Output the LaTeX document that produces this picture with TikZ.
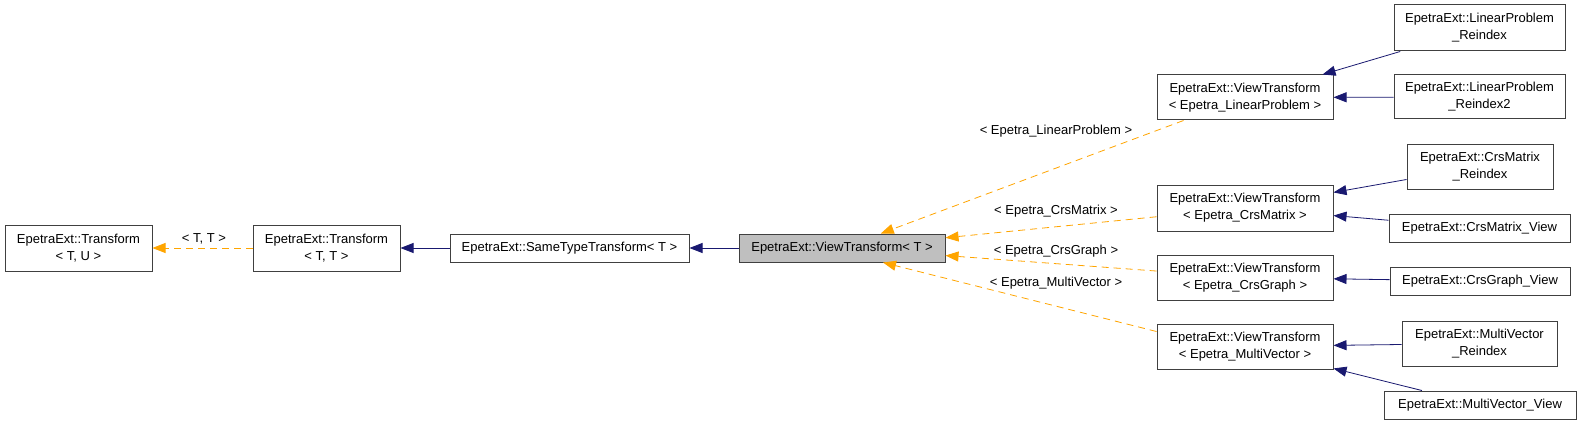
\documentclass[tikz,border=0pt]{standalone}
\usepackage{fontspec}
\setmainfont{Liberation Sans}
\usetikzlibrary{arrows.meta,calc}
\definecolor{edgeblue}{HTML}{191970}
\definecolor{edgeorange}{HTML}{FFA500}
\definecolor{boxgray}{HTML}{BFBFBF}
\definecolor{boxline}{HTML}{404040}
\begin{document}
\begin{tikzpicture}[x=1pt,y=-1pt,
  cls/.style={draw=boxline, line width=1pt, rectangle, inner sep=0pt, align=center, font=\fontsize{13}{17}\selectfont},
  inh/.style={draw=edgeblue, line width=0.8pt, -{Triangle[length=13pt,width=10pt]}},
  tpl/.style={draw=edgeorange, line width=0.8pt, dash pattern=on 7pt off 5pt, -{Triangle[length=13pt,width=10pt]}},
  lbl/.style={font=\fontsize{13}{17}\selectfont, inner sep=0pt}]
\fill[white] (0,0) rectangle (1581,425);
\useasboundingbox (0,0) rectangle (1581,425);

\node[cls, minimum width=147pt, minimum height=46pt] (tu) at (78.5,248) {EpetraExt::Transform\\< T, U >};
\node[cls, minimum width=147pt, minimum height=46pt] (tt) at (326.5,248) {EpetraExt::Transform\\< T, T >};
\node[cls, minimum width=239pt, minimum height=28pt] (st) at (569.5,248) {EpetraExt::SameTypeTransform< T >};
\node[cls, fill=boxgray, minimum width=206pt, minimum height=28pt] (vt) at (842,248) {EpetraExt::ViewTransform< T >};

\node[cls, minimum width=176pt, minimum height=45pt] (vtlp) at (1245,97.5) {EpetraExt::ViewTransform\\< Epetra\_LinearProblem >};
\node[cls, minimum width=176pt, minimum height=46pt] (vtcm) at (1245,208) {EpetraExt::ViewTransform\\< Epetra\_CrsMatrix >};
\node[cls, minimum width=176pt, minimum height=45pt] (vtcg) at (1245,277.5) {EpetraExt::ViewTransform\\< Epetra\_CrsGraph >};
\node[cls, minimum width=176pt, minimum height=45pt] (vtmv) at (1245,346.5) {EpetraExt::ViewTransform\\< Epetra\_MultiVector >};

\node[cls, minimum width=171pt, minimum height=46pt] (lpr) at (1479.5,28) {EpetraExt::LinearProblem\\\_Reindex};
\node[cls, minimum width=171pt, minimum height=44pt] (lpr2) at (1479.5,97) {EpetraExt::LinearProblem\\\_Reindex2};
\node[cls, minimum width=146pt, minimum height=45pt] (cmr) at (1480,166.5) {EpetraExt::CrsMatrix\\\_Reindex};
\node[cls, minimum width=181pt, minimum height=28pt] (cmv) at (1479.5,228) {EpetraExt::CrsMatrix\_View};
\node[cls, minimum width=180pt, minimum height=28pt] (cgv) at (1480,281) {EpetraExt::CrsGraph\_View};
\node[cls, minimum width=155pt, minimum height=45pt] (mvr) at (1479.5,343.5) {EpetraExt::MultiVector\\\_Reindex};
\node[cls, minimum width=192pt, minimum height=28pt] (mvv) at (1480,405) {EpetraExt::MultiVector\_View};

\draw[tpl] (tt) -- (tu);
\draw[inh] (st) -- (tt);
\draw[inh] (vt) -- (st);
\draw[tpl] (vtlp) -- (vt);
\draw[tpl] (vtcm) -- (vt);
\draw[tpl] (vtcg) -- (vt);
\draw[tpl] ($(vtmv.west)+(0,-15)$) -- ($(vt.south)+(41,0)$);

\draw[inh] (lpr) -- (vtlp);
\draw[inh] (lpr2) -- (vtlp);
\draw[inh] (cmr) -- (vtcm);
\draw[inh] (cmv) -- (vtcm);
\draw[inh] (cgv) -- (vtcg);
\draw[inh] (mvr) -- (vtmv);
\draw[inh] (mvv) -- (vtmv);

\node[lbl] (l1) at (204,239) {< T, T >};
\node[lbl] (l2) at (1056,131) {< Epetra\_LinearProblem >};
\node[lbl] (l3) at (1056,211) {< Epetra\_CrsMatrix >};
\node[lbl] (l4) at (1056,251) {< Epetra\_CrsGraph >};
\node[lbl] (l5) at (1056,283) {< Epetra\_MultiVector >};
\end{tikzpicture}
\end{document}
